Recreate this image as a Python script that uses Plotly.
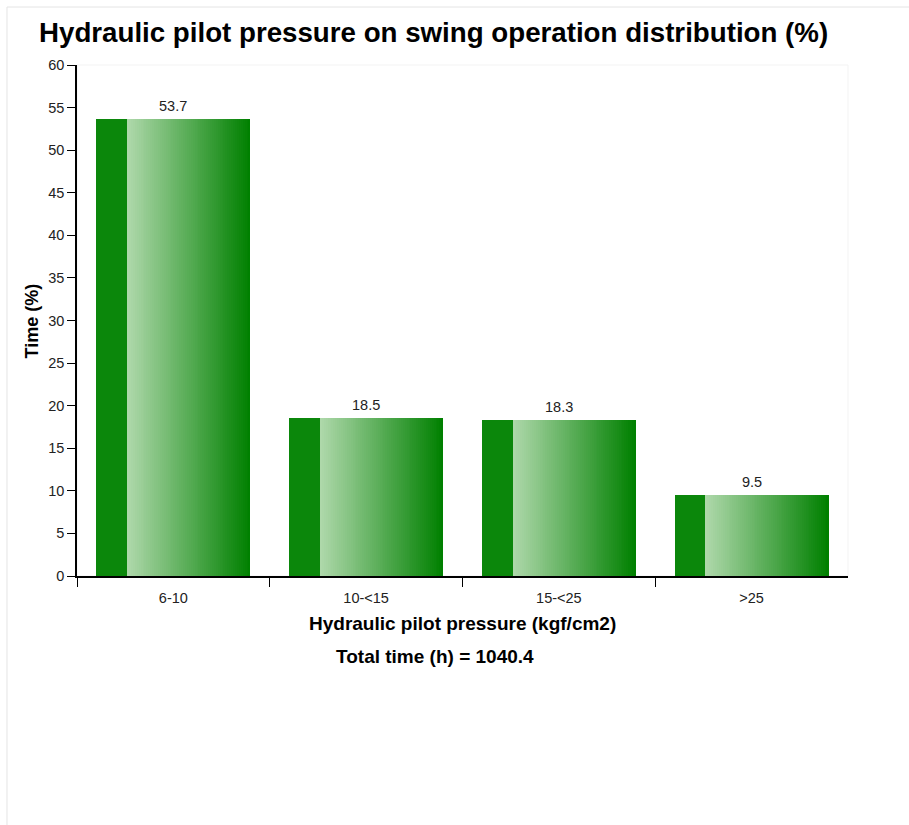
import numpy as np
import plotly.graph_objects as go

# Pressure bands and share of swing time in each band
categories = ["6-10", "10-<15", "15-<25", ">25"]
time_pct = [53.7, 18.5, 18.3, 9.5]
total_hours = 1040.4
y_ticks = [0, 5, 10, 15, 20, 25, 30, 35, 40, 45, 50, 55, 60]

FONT = "Arial, 'Liberation Sans', sans-serif"
pos = list(range(len(categories)))

# Bar geometry (in category units): a solid dark strip on the left,
# then a horizontal light-to-dark green gradient built from thin slices.
BAR_W = 0.8
DARK_W = 0.16
N_SLICES = 64
light = np.array([174, 216, 170])
dark = np.array([0, 128, 0])

fig = go.Figure()

fig.add_trace(go.Bar(
    x=pos, y=time_pct, width=DARK_W, offset=-BAR_W / 2,
    marker=dict(color="#0b870b", line=dict(width=0)),
    hoverinfo="skip", showlegend=False,
))

grad_w = BAR_W - DARK_W
step = grad_w / N_SLICES
for i in range(N_SLICES):
    t = i / (N_SLICES - 1)
    r, g, b = (light + (dark - light) * t).round().astype(int)
    fig.add_trace(go.Bar(
        x=pos, y=time_pct,
        width=step * 1.35 if i < N_SLICES - 1 else step,
        offset=-BAR_W / 2 + DARK_W + i * step,
        marker=dict(color=f"rgb({r},{g},{b})", line=dict(width=0)),
        hoverinfo="skip", showlegend=False,
    ))

# Value labels above each bar
value_labels = [
    dict(x=p, y=v, xref="x", yref="y", text=f"{v:.1f}",
         xanchor="center", yanchor="bottom", yshift=3, showarrow=False,
         font=dict(family=FONT, size=14.5, color="#222"))
    for p, v in zip(pos, time_pct)
]

fig.update_layout(
    width=909, height=825,
    margin=dict(l=77, r=61, t=65, b=249),
    paper_bgcolor="white", plot_bgcolor="white",
    barmode="overlay", bargap=0,
    font=dict(family=FONT, size=14.5, color="#222"),
    xaxis=dict(
        range=[-0.5, 3.5], tickvals=pos, ticktext=categories,
        ticks="outside", ticklen=8, tickcolor="rgba(0,0,0,0)",
        showgrid=False, zeroline=False,
        showline=True, linecolor="black", linewidth=2,
        tickfont=dict(family=FONT, size=14.5, color="#222"),
        minor=dict(tickvals=[-0.5, 0.5, 1.5, 2.5], ticks="outside",
                   ticklen=9, tickcolor="black", tickwidth=1, showgrid=False),
        fixedrange=True,
    ),
    yaxis=dict(
        range=[0, 60], tickvals=y_ticks,
        ticks="outside", ticklen=8, tickcolor="black", tickwidth=1,
        showgrid=False, zeroline=False,
        showline=True, linecolor="black", linewidth=1.5,
        tickfont=dict(family=FONT, size=14.5, color="#222"),
        fixedrange=True,
    ),
    shapes=[
        # outer frame of the chart card
        dict(type="line", xref="paper", yref="paper",
             x0=-0.0908, x1=1.08, y0=1.1135, y1=1.1135,
             line=dict(color="#e4e4e4", width=1)),
        dict(type="line", xref="paper", yref="paper",
             x0=-0.0908, x1=-0.0908, y0=1.1135, y1=-0.49,
             line=dict(color="#e4e4e4", width=1)),
        # faint plot-area frame
        dict(type="rect", xref="paper", yref="paper",
             x0=0, x1=1, y0=0, y1=1, layer="below",
             line=dict(color="#f3f3f3", width=1)),
    ],
    annotations=value_labels + [
        dict(text="<b>Hydraulic pilot pressure on swing operation distribution (%)</b>",
             xref="paper", yref="paper", x=0.463, y=1.0645,
             xanchor="center", yanchor="middle", showarrow=False,
             font=dict(family=FONT, size=27.7, color="black")),
        dict(text="<b>Time (%)</b>", textangle=-90,
             xref="paper", yref="paper", x=-0.0584, y=0.5,
             xanchor="center", yanchor="middle", showarrow=False,
             font=dict(family=FONT, size=18, color="black")),
        dict(text="<b>Hydraulic pilot pressure (kgf/cm2)</b>",
             xref="paper", yref="paper", x=0.5, y=-0.092,
             xanchor="center", yanchor="middle", showarrow=False,
             font=dict(family=FONT, size=19, color="black")),
        dict(text=f"<b>Total time (h) = {total_hours}</b>",
             xref="paper", yref="paper", x=0.4643, y=-0.1585,
             xanchor="center", yanchor="middle", showarrow=False,
             font=dict(family=FONT, size=19, color="black")),
    ],
)

fig.write_html("out.html", config={"displayModeBar": False})
